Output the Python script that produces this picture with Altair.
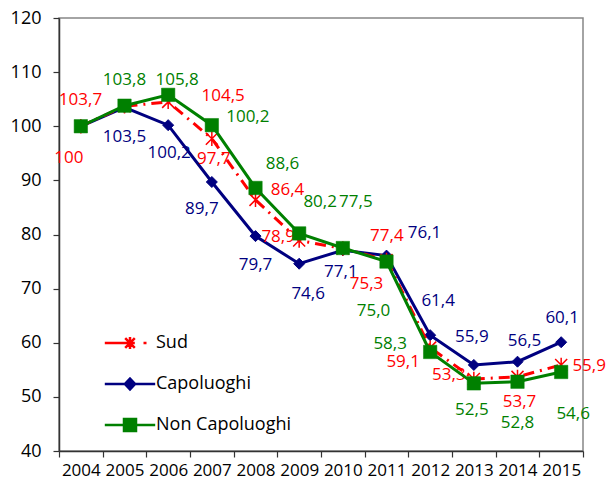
import altair as alt
import pandas as pd

# ---- data ----
years = [str(y) for y in range(2004, 2016)]
sud = [100, 103.7, 104.5, 97.7, 86.4, 78.9, 77.4, 75.3, 59.1, 53.3, 53.7, 55.9]
capoluoghi = [100, 103.5, 100.2, 89.7, 79.7, 74.6, 77.1, 76.1, 61.4, 55.9, 56.5, 60.1]
non_capoluoghi = [100, 103.8, 105.8, 100.2, 88.6, 80.2, 77.5, 75.0, 58.3, 52.5, 52.8, 54.6]
series_names = ["Sud", "Capoluoghi", "Non Capoluoghi"]
y_ticks = list(range(40, 121, 10))

# ---- label placement (pixel offsets from each point; layout only) ----
sud_dx = [-12, -44, 55, 2, 32, -21, 44, -20, -27, -25, 2, 28]
sud_dy = [32, -6, -6, 20, -10, -3, -13, 24, 14, -4, 25, 1]
cap_dx = [None, 0, 1, -10, 0, 9, -2, 38, 8, -2, 7, 1]
cap_dy = [None, 30, 28, 27, 29, 30, 22, -23, -34, -28, -21, -24]
non_dx = [None, 0, 9, 36, 27, 21, 13, -13, -40, -2, 0, 12]
non_dy = [None, -26, -15, -8, -24, -31, -46, 49, -8, 27, 41, 42]

RED, NAVY, GREEN = "#FF0000", "#000080", "#008000"
FONT = "Open Sans"
W, H = 524, 433
Y_DOMAIN = [40, 120]


def fmt(v):
    if v == 100:
        return "100"
    return f"{v:.1f}".replace(".", ",")


def frame(name, vals, dxs, dys):
    rows = []
    for y, v, dx, dy in zip(years, vals, dxs, dys):
        rows.append({"year": y, "series": name, "value": v,
                     "label": fmt(v) if dx is not None else None,
                     "dx": dx if dx is not None else 0,
                     "dy": dy if dy is not None else 0})
    return pd.DataFrame(rows)


df_sud = frame("Sud", sud, sud_dx, sud_dy)
df_cap = frame("Capoluoghi", capoluoghi, cap_dx, cap_dy)
df_non = frame("Non Capoluoghi", non_capoluoghi, non_dx, non_dy)
df_all = pd.concat([df_sud, df_cap, df_non], ignore_index=True)

x_scale = alt.Scale(type="band", paddingInner=0, paddingOuter=0)
x_axis = alt.Axis(title=None, labelAngle=0, tickBand="extent",
                  labelFont=FONT, labelFontSize=17, labelColor="#000000",
                  tickSize=6, labelPadding=5, domainColor="#333333",
                  tickColor="#333333", domainWidth=1.5, tickWidth=1.2,
                  grid=False)
x_enc = alt.X("year:O", bandPosition=0.5, scale=x_scale, axis=x_axis)
y_scale = alt.Scale(domain=Y_DOMAIN, nice=False, zero=False)
y_enc = alt.Y("value:Q", scale=y_scale,
              axis=alt.Axis(title=None, values=y_ticks, labelFont=FONT,
                            labelFontSize=18, labelColor="#000000", tickSize=6,
                            labelPadding=12, domainColor="#333333",
                            tickColor="#333333", domainWidth=1.5, tickWidth=1.2,
                            grid=False))

# x offsets are taken from the band start, so shift by half a band
HALF_BAND = W / len(years) / 2
PIX_X = alt.Scale(type="linear", domain=[-100, 100],
                  range=[-100 + HALF_BAND, 100 + HALF_BAND], zero=False, nice=False)
UNITS_PER_PX = (Y_DOMAIN[1] - Y_DOMAIN[0]) / H

ASTERISK = "M-1,-1L1,1M-1,1L1,-1M0,-1.2L0,1.2"


def series_layers(d, color, shape, size, filled, stroke_w, dash=None):
    line_kw = dict(color=color, strokeWidth=3)
    if dash:
        line_kw["strokeDash"] = dash
        line_kw["strokeCap"] = "butt"
    base = alt.Chart(d)
    line = base.mark_line(**line_kw).encode(x=x_enc, y=y_enc)
    pt_kw = dict(shape=shape, size=size, filled=filled, color=color, opacity=1)
    if not filled:
        pt_kw["strokeWidth"] = stroke_w
    else:
        pt_kw["stroke"] = color
        pt_kw["strokeWidth"] = stroke_w
    pts = base.mark_point(**pt_kw).encode(x=x_enc, y=y_enc)
    txt = base.transform_filter("datum.label != null").transform_calculate(
        label_y=f"datum.value - datum.dy * {UNITS_PER_PX}"
    ).mark_text(
        color=color, font=FONT, fontSize=17, baseline="middle", align="center"
    ).encode(x=alt.X("year:O", scale=x_scale, axis=x_axis),
             y=alt.Y("label_y:Q", scale=y_scale),
             text="label:N",
             xOffset=alt.XOffset("dx:Q", scale=PIX_X))
    return [line, pts, txt]


layers = []
layers += series_layers(df_cap, NAVY, "diamond", 121, True, 1)
layers += series_layers(df_sud, RED, ASTERISK, 144, False, 1.5, dash=[11, 6, 2, 6])
layers += series_layers(df_non, GREEN, "square", 180, True, 0.5)

# legend (symbols of line + marker, as in the reference)
leg_paths = [
    "M-4.2,0L0.8,0M-0.8,-0.8L0.8,0.8M-0.8,0.8L0.8,-0.8M0,-1L0,1M2.25,0L2.75,0",
    "M-4.2,0L4.2,0M0,-0.9L0.85,0L0,0.9L-0.85,0Z",
    "M-4.2,0L4.2,0M-1,-1L1,-1L1,1L-1,1Z",
]
leg_colors = [RED, NAVY, GREEN]
legend = alt.Legend(title=None, orient="none", legendX=62, legendY=316,
                    symbolSize=144, symbolStrokeWidth=2.5, labelOffset=17,
                    labelFont=FONT, labelFontSize=18, labelColor="#000000",
                    rowPadding=19, padding=0, labelLimit=300, symbolOpacity=1)
leg_layer = alt.Chart(df_all).transform_filter("datum.value < 0").mark_point(
    filled=True, opacity=1
).encode(
    x=x_enc, y=y_enc,
    color=alt.Color("series:N", scale=alt.Scale(domain=series_names, range=leg_colors),
                    legend=legend),
    stroke=alt.Stroke("series:N", scale=alt.Scale(domain=series_names, range=leg_colors),
                      legend=legend),
    shape=alt.Shape("series:N", scale=alt.Scale(domain=series_names, range=leg_paths),
                    legend=legend),
)
layers.append(leg_layer)

chart = alt.layer(*layers).properties(
    width=W, height=H,
    autosize=alt.AutoSizeParams(type="none"),
    padding={"left": 51, "top": 10, "right": 25, "bottom": 30},
).configure_view(stroke="#868686", strokeWidth=1.5)

chart.save("out.html", embed_options={"renderer": "svg", "actions": False})
